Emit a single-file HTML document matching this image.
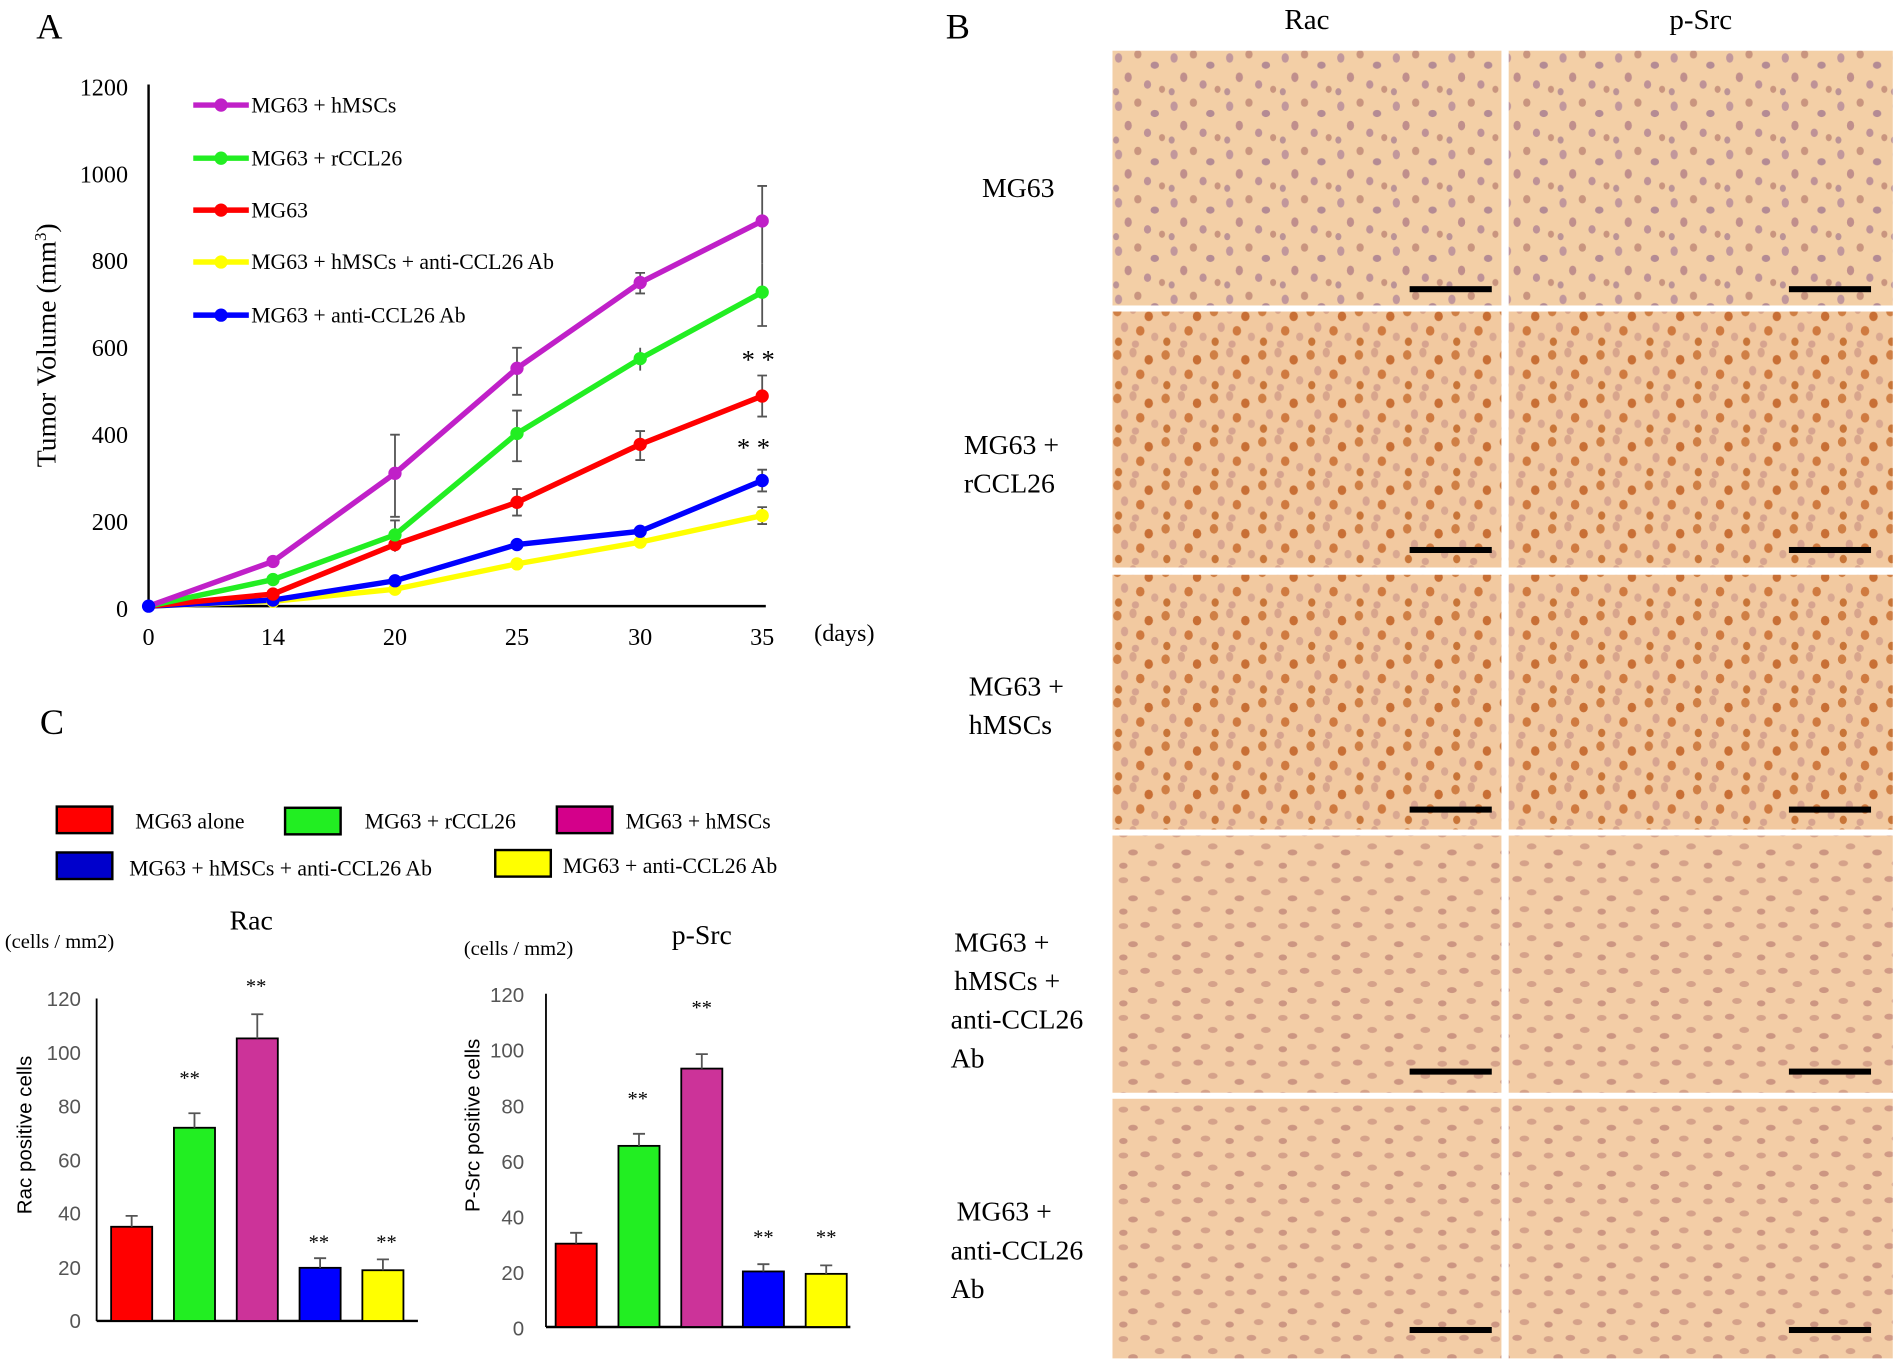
<!DOCTYPE html>
<html><head><meta charset="utf-8"><style>html,body{margin:0;padding:0;background:#fff;}svg{display:block}</style></head>
<body>
<svg width="1894" height="1362" viewBox="0 0 1568 1128" preserveAspectRatio="none" xmlns="http://www.w3.org/2000/svg" font-family="Liberation Serif, serif">
<defs>
<pattern id="p1" width="46" height="40" patternUnits="userSpaceOnUse">
<rect width="46" height="40" fill="#f3cfa6"/>
<ellipse cx="6" cy="8" rx="3" ry="4" fill="#b48a9a" opacity=".8"/><ellipse cx="22" cy="5" rx="3" ry="3.5" fill="#c9957f"/>
<ellipse cx="36" cy="14" rx="3.5" ry="3" fill="#a47a90" opacity=".8"/><ellipse cx="14" cy="24" rx="3" ry="4" fill="#c08f8c"/>
<ellipse cx="30" cy="30" rx="3" ry="3.5" fill="#b08394" opacity=".8"/><ellipse cx="42" cy="34" rx="2.5" ry="3" fill="#c9957f"/>
<ellipse cx="4" cy="36" rx="2.5" ry="3" fill="#a47a90" opacity=".7"/>
</pattern>
<pattern id="p2" width="40" height="36" patternUnits="userSpaceOnUse">
<rect width="40" height="36" fill="#f2c9a0"/>
<ellipse cx="5" cy="6" rx="3.5" ry="4" fill="#cf7f45"/><ellipse cx="18" cy="4" rx="3" ry="4" fill="#d8a58c"/>
<ellipse cx="31" cy="10" rx="3.5" ry="4" fill="#c86f35"/><ellipse cx="11" cy="19" rx="3" ry="4" fill="#d7a491"/>
<ellipse cx="24" cy="22" rx="3.5" ry="4" fill="#cf7a40"/><ellipse cx="36" cy="27" rx="3" ry="3.5" fill="#d9a891"/>
<ellipse cx="6" cy="31" rx="3" ry="3.5" fill="#c87538"/><ellipse cx="20" cy="33" rx="3" ry="3" fill="#d6a38f"/>
</pattern>
<pattern id="p3" width="44" height="38" patternUnits="userSpaceOnUse">
<rect width="44" height="38" fill="#f3cda6"/>
<ellipse cx="6" cy="7" rx="4" ry="2.5" fill="#d5a28a"/><ellipse cx="24" cy="6" rx="4" ry="2.5" fill="#d09a86"/>
<ellipse cx="36" cy="17" rx="4" ry="2.5" fill="#d5a28a"/><ellipse cx="14" cy="22" rx="4" ry="2.5" fill="#cc9682"/>
<ellipse cx="30" cy="31" rx="4" ry="2.5" fill="#d5a28a"/><ellipse cx="6" cy="33" rx="3.5" ry="2.5" fill="#cc9682"/>
</pattern>
</defs>
<rect width="1568" height="1128" fill="#fff"/>

<!-- Panel A -->
<text x="30" y="32" font-size="30">A</text>
<g font-size="20" fill="#000" text-anchor="end">
<text x="106" y="79">1200</text><text x="106" y="151">1000</text><text x="106" y="223">800</text>
<text x="106" y="295">600</text><text x="106" y="367">400</text><text x="106" y="439">200</text><text x="106" y="511">0</text>
</g>
<g font-size="20" text-anchor="middle">
<text x="123" y="534">0</text><text x="226" y="534">14</text><text x="327" y="534">20</text>
<text x="428" y="534">25</text><text x="530" y="534">30</text><text x="631" y="534">35</text>
<text x="699" y="531">(days)</text>
</g>
<text transform="translate(46,286) rotate(-90)" font-size="23" text-anchor="middle">Tumor Volume (mm<tspan font-size="14" dy="-8">3</tspan><tspan dy="8">)</tspan></text>
<line x1="123" y1="70" x2="123" y2="502" stroke="#000" stroke-width="2"/>
<line x1="123" y1="502" x2="634" y2="502" stroke="#000" stroke-width="2"/>
<g stroke="#555" stroke-width="1.5">
<path d="M327 360V428M323 360h8M323 428h8"/>
<path d="M428 288V327M424 288h8M424 327h8"/>
<path d="M530 226V243M526 226h8M526 243h8"/>
<path d="M631 154V218M627 154h8"/>
<path d="M631 218V270M627 270h8"/>
<path d="M327 431V457M323 431h8"/>
<path d="M428 340V382M424 340h8M424 382h8"/>
<path d="M530 300V307M530 288V303"/>
<path d="M428 405V427M424 405h8M424 427h8"/>
<path d="M530 357V381M526 357h8M526 381h8"/>
<path d="M631 311V345M627 311h8M627 345h8"/>
<path d="M631 389V407M627 389h8M627 407h8"/>
<path d="M631 420V434M627 420h8M627 434h8"/>
</g>
<g fill="none" stroke-width="4.5">
<polyline points="123,502 226,498 327,488 428,467 530,449 631,427" stroke="#ffff00"/>
<polyline points="123,502 226,497 327,481 428,451 530,440 631,398" stroke="#0000ff"/>
<polyline points="123,502 226,492 327,451 428,416 530,368 631,328" stroke="#ff0000"/>
<polyline points="123,502 226,480 327,443 428,359 530,297 631,242" stroke="#22ee22"/>
<polyline points="123,502 226,465 327,392 428,305 530,234 631,183" stroke="#c020c8"/>
</g>
<g fill="#ffff00"><circle cx="226" cy="498" r="5.5"/><circle cx="327" cy="488" r="5.5"/><circle cx="428" cy="467" r="5.5"/><circle cx="530" cy="449" r="5.5"/><circle cx="631" cy="427" r="5.5"/></g>
<g fill="#0000ff"><circle cx="123" cy="502" r="5.5"/><circle cx="226" cy="497" r="5.5"/><circle cx="327" cy="481" r="5.5"/><circle cx="428" cy="451" r="5.5"/><circle cx="530" cy="440" r="5.5"/><circle cx="631" cy="398" r="5.5"/></g>
<g fill="#ff0000"><circle cx="226" cy="492" r="5.5"/><circle cx="327" cy="451" r="5.5"/><circle cx="428" cy="416" r="5.5"/><circle cx="530" cy="368" r="5.5"/><circle cx="631" cy="328" r="5.5"/></g>
<g fill="#22ee22"><circle cx="226" cy="480" r="5.5"/><circle cx="327" cy="443" r="5.5"/><circle cx="428" cy="359" r="5.5"/><circle cx="530" cy="297" r="5.5"/><circle cx="631" cy="242" r="5.5"/></g>
<g fill="#c020c8"><circle cx="226" cy="465" r="5.5"/><circle cx="327" cy="392" r="5.5"/><circle cx="428" cy="305" r="5.5"/><circle cx="530" cy="234" r="5.5"/><circle cx="631" cy="183" r="5.5"/></g>
<text x="614" y="305" font-size="22">* *</text>
<text x="610" y="378" font-size="22">* *</text>
<g font-size="18">
<line x1="160" y1="87" x2="206" y2="87" stroke="#c020c8" stroke-width="4.5"/><circle cx="183" cy="87" r="5.5" fill="#c020c8"/><text x="208" y="93">MG63 + hMSCs</text>
<line x1="160" y1="131" x2="206" y2="131" stroke="#22ee22" stroke-width="4.5"/><circle cx="183" cy="131" r="5.5" fill="#22ee22"/><text x="208" y="137">MG63 + rCCL26</text>
<line x1="160" y1="174" x2="206" y2="174" stroke="#ff0000" stroke-width="4.5"/><circle cx="183" cy="174" r="5.5" fill="#ff0000"/><text x="208" y="180">MG63</text>
<line x1="160" y1="217" x2="206" y2="217" stroke="#ffff00" stroke-width="4.5"/><circle cx="183" cy="217" r="5.5" fill="#ffff00"/><text x="208" y="223">MG63 + hMSCs + anti-CCL26 Ab</text>
<line x1="160" y1="261" x2="206" y2="261" stroke="#0000ff" stroke-width="4.5"/><circle cx="183" cy="261" r="5.5" fill="#0000ff"/><text x="208" y="267">MG63 + anti-CCL26 Ab</text>
</g>

<!-- Panel B -->
<text x="783" y="32" font-size="30">B</text>
<text x="1082" y="24" font-size="24" text-anchor="middle">Rac</text>
<text x="1408" y="24" font-size="24" text-anchor="middle">p-Src</text>
<rect x="921" y="42" width="322" height="211" fill="url(#p1)"/><rect x="1249" y="42" width="318" height="211" fill="url(#p1)"/>
<rect x="921" y="258" width="322" height="212" fill="url(#p2)"/><rect x="1249" y="258" width="318" height="212" fill="url(#p2)"/>
<rect x="921" y="476" width="322" height="211" fill="url(#p2)"/><rect x="1249" y="476" width="318" height="211" fill="url(#p2)"/>
<rect x="921" y="692" width="322" height="213" fill="url(#p3)"/><rect x="1249" y="692" width="318" height="213" fill="url(#p3)"/>
<rect x="921" y="910" width="322" height="215" fill="url(#p3)"/><rect x="1249" y="910" width="318" height="215" fill="url(#p3)"/>
<g fill="#000">
<rect x="1167" y="237" width="68" height="5"/><rect x="1481" y="237" width="68" height="5"/>
<rect x="1167" y="453" width="68" height="5"/><rect x="1481" y="453" width="68" height="5"/>
<rect x="1167" y="668" width="68" height="5"/><rect x="1481" y="668" width="68" height="5"/>
<rect x="1167" y="885" width="68" height="5"/><rect x="1481" y="885" width="68" height="5"/>
<rect x="1167" y="1099" width="68" height="5"/><rect x="1481" y="1099" width="68" height="5"/>
</g>
<g font-size="23">
<text x="813" y="163">MG63</text>
<text x="798" y="376">MG63 +</text><text x="798" y="408">rCCL26</text>
<text x="802" y="576">MG63 +</text><text x="802" y="608">hMSCs</text>
<text x="790" y="788">MG63  +</text><text x="790" y="820">hMSCs +</text><text x="787" y="852">anti-CCL26</text><text x="787" y="884">Ab</text>
<text x="792" y="1011">MG63  +</text><text x="787" y="1043">anti-CCL26</text><text x="787" y="1075">Ab</text>
</g>

<!-- Panel C -->
<text x="33" y="608" font-size="30">C</text>
<g stroke="#000" stroke-width="2" font-size="18">
<rect x="47" y="668" width="46" height="22" fill="#ff0000"/>
<rect x="236" y="669" width="46" height="22" fill="#22ee22"/>
<rect x="461" y="668" width="46" height="22" fill="#d4008a"/>
<rect x="47" y="706" width="46" height="22" fill="#0000cc"/>
<rect x="410" y="704" width="46" height="22" fill="#ffff00"/>
</g>
<g font-size="18">
<text x="112" y="686">MG63 alone</text><text x="302" y="686">MG63 + rCCL26</text><text x="518" y="686">MG63 +  hMSCs</text>
<text x="107" y="725">MG63 + hMSCs + anti-CCL26 Ab</text><text x="466" y="723">MG63 +  anti-CCL26 Ab</text>
</g>
<text x="208" y="770" font-size="23" text-anchor="middle">Rac</text>
<text x="4" y="785" font-size="17">(cells / mm2)</text>
<text x="581" y="782" font-size="23" text-anchor="middle">p-Src</text>
<text x="384" y="791" font-size="17">(cells / mm2)</text>
<!-- Rac chart -->
<g font-size="17" fill="#555" text-anchor="end" font-family="Liberation Sans, sans-serif">
<text x="67" y="833">120</text><text x="67" y="878">100</text><text x="67" y="922">80</text><text x="67" y="967">60</text><text x="67" y="1011">40</text><text x="67" y="1056">20</text><text x="67" y="1100">0</text>
</g>
<text transform="translate(26,940) rotate(-90)" font-size="17" text-anchor="middle" font-family="Liberation Sans, sans-serif">Rac  positive cells</text>
<line x1="80" y1="827" x2="80" y2="1094" stroke="#000" stroke-width="1.5"/>
<line x1="80" y1="1094" x2="346" y2="1094" stroke="#000" stroke-width="2"/>
<g stroke="#000" stroke-width="1.5">
<rect x="92" y="1016" width="34" height="78" fill="#ff0000"/>
<rect x="144" y="934" width="34" height="160" fill="#22ee22"/>
<rect x="196" y="860" width="34" height="234" fill="#cc3399"/>
<rect x="248" y="1050" width="34" height="44" fill="#0000ff"/>
<rect x="300" y="1052" width="34" height="42" fill="#ffff00"/>
</g>
<g stroke="#555" stroke-width="1.5">
<path d="M109 1016V1007M104 1007h10M161 934V922M156 922h10M213 860V840M208 840h10M265 1050V1042M260 1042h10M317 1052V1043M312 1043h10"/>
</g>
<g font-size="17" text-anchor="middle">
<text x="157" y="898">**</text><text x="212" y="822">**</text><text x="264" y="1034">**</text><text x="320" y="1034">**</text>
</g>
<!-- pSrc chart -->
<g font-size="17" fill="#555" text-anchor="end" font-family="Liberation Sans, sans-serif">
<text x="434" y="830">120</text><text x="434" y="876">100</text><text x="434" y="922">80</text><text x="434" y="968">60</text><text x="434" y="1014">40</text><text x="434" y="1060">20</text><text x="434" y="1106">0</text>
</g>
<text transform="translate(397,932) rotate(-90)" font-size="17" text-anchor="middle" font-family="Liberation Sans, sans-serif">P-Src  positive cells</text>
<line x1="452" y1="823" x2="452" y2="1099" stroke="#000" stroke-width="1.5"/>
<line x1="452" y1="1099" x2="704" y2="1099" stroke="#000" stroke-width="2"/>
<g stroke="#000" stroke-width="1.5">
<rect x="460" y="1030" width="34" height="69" fill="#ff0000"/>
<rect x="512" y="949" width="34" height="150" fill="#22ee22"/>
<rect x="564" y="885" width="34" height="214" fill="#cc3399"/>
<rect x="615" y="1053" width="34" height="46" fill="#0000ff"/>
<rect x="667" y="1055" width="34" height="44" fill="#ffff00"/>
</g>
<g stroke="#555" stroke-width="1.5">
<path d="M477 1030V1021M472 1021h10M529 949V939M524 939h10M581 885V873M576 873h10M632 1053V1047M627 1047h10M684 1055V1048M679 1048h10"/>
</g>
<g font-size="17" text-anchor="middle">
<text x="528" y="915">**</text><text x="581" y="840">**</text><text x="632" y="1030">**</text><text x="684" y="1030">**</text>
</g>
</svg>
</body></html>
